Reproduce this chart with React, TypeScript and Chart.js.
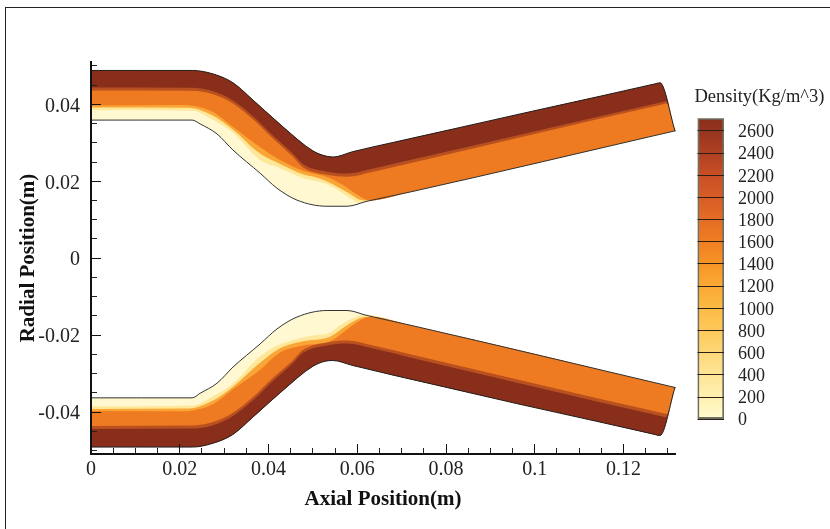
import React, { useEffect, useRef } from "react";
import { Chart, registerables } from "chart.js";

Chart.register(...registerables);

type Pt = [number, number];

const xMajorTicks = [0, 0.02, 0.04, 0.06, 0.08, 0.1, 0.12];
const xMinorTicks = [0.005, 0.01, 0.015, 0.025, 0.03, 0.035, 0.045, 0.05, 0.055, 0.065, 0.07, 0.075, 0.085, 0.09, 0.095, 0.105, 0.11, 0.115, 0.125, 0.13];
const yMajorTicks = [-0.04, -0.02, 0, 0.02, 0.04];
const yMinorTicks = [-0.05, -0.045, -0.035, -0.03, -0.025, -0.015, -0.01, -0.005, 0.005, 0.01, 0.015, 0.025, 0.03, 0.035, 0.045, 0.05];

const upperOuterWall: Pt[] = [[0, 0.0488], [0.0228, 0.0488], [0.0275, 0.0479], [0.032, 0.0456], [0.0365, 0.0411], [0.0433, 0.0341], [0.05, 0.0279], [0.0527, 0.0266], [0.0545, 0.0263], [0.059, 0.0277], [0.0681, 0.0301], [0.0809, 0.0334], [0.0967, 0.0375], [0.1147, 0.0421], [0.127, 0.0453], [0.1282, 0.0456], [0.1316, 0.0331]];
const upperDarkEdge: Pt[] = [[0, 0.0444], [0.0228, 0.0443], [0.0275, 0.0434], [0.032, 0.041], [0.0365, 0.0369], [0.041, 0.0319], [0.0455, 0.0272], [0.0478, 0.0244], [0.0532, 0.0225], [0.0577, 0.022], [0.0636, 0.0233], [0.0719, 0.0255], [0.1283, 0.0405], [0.1295, 0.0408], [0.1316, 0.0331]];
const upperFadeEdge: Pt[] = [[0, 0.0436], [0.0228, 0.0435], [0.0275, 0.0426], [0.032, 0.0402], [0.0365, 0.0361], [0.041, 0.0311], [0.0455, 0.0264], [0.0478, 0.0236], [0.0532, 0.0217], [0.0577, 0.0212], [0.0636, 0.0225], [0.0719, 0.0247], [0.1285, 0.0399], [0.1297, 0.0402], [0.1316, 0.0331]];
const upperOrangeEdge: Pt[] = [[0, 0.0397], [0.0212, 0.0398], [0.023, 0.0396], [0.0275, 0.038], [0.032, 0.0341], [0.0381, 0.0289], [0.0426, 0.0255], [0.0478, 0.0227], [0.0539, 0.0208], [0.0568, 0.019], [0.0595, 0.0169], [0.0629, 0.015], [0.0719, 0.0172], [0.1316, 0.0331]];
const upperAmberEdge: Pt[] = [[0, 0.0392], [0.022, 0.0391], [0.0275, 0.037], [0.032, 0.0334], [0.0381, 0.0272], [0.0426, 0.0245], [0.0478, 0.0218], [0.0516, 0.0207], [0.0545, 0.0192], [0.0584, 0.0167], [0.0606, 0.0152], [0.0629, 0.015], [0.0719, 0.0172], [0.1316, 0.0331]];
const upperYellowEdge: Pt[] = [[0, 0.0385], [0.0228, 0.0383], [0.0275, 0.0359], [0.032, 0.0326], [0.0381, 0.0255], [0.0426, 0.0234], [0.0455, 0.0219], [0.0478, 0.0208], [0.0516, 0.0198], [0.0545, 0.0185], [0.0584, 0.0156], [0.0606, 0.0144], [0.0622, 0.0148], [0.0719, 0.0172], [0.1316, 0.0331]];
const upperInnerWall: Pt[] = [[0, 0.0359], [0.0228, 0.0359], [0.0246, 0.0349], [0.0284, 0.0323], [0.032, 0.0281], [0.0381, 0.0221], [0.0419, 0.0182], [0.0464, 0.0151], [0.0532, 0.0135], [0.0577, 0.0135], [0.0622, 0.0148], [0.0719, 0.0172], [0.1316, 0.0331]];

const lowerOuterWall: Pt[] = [[0, -0.0491], [0.0228, -0.0491], [0.0275, -0.0481], [0.032, -0.0458], [0.0365, -0.0413], [0.0433, -0.0343], [0.05, -0.0281], [0.0527, -0.0268], [0.0545, -0.0266], [0.059, -0.0279], [0.0681, -0.0304], [0.0809, -0.0338], [0.0967, -0.038], [0.1147, -0.0426], [0.127, -0.0458], [0.1282, -0.0461], [0.1316, -0.0336]];
const lowerDarkEdge: Pt[] = [[0, -0.0444], [0.0228, -0.0443], [0.0275, -0.0434], [0.032, -0.041], [0.0365, -0.0369], [0.041, -0.0319], [0.0455, -0.0273], [0.0478, -0.0246], [0.0532, -0.0227], [0.0577, -0.0222], [0.0636, -0.0235], [0.0719, -0.0258], [0.1283, -0.041], [0.1295, -0.0413], [0.1316, -0.0336]];
const lowerFadeEdge: Pt[] = [[0, -0.0436], [0.0228, -0.0435], [0.0275, -0.0426], [0.032, -0.0402], [0.0365, -0.0361], [0.041, -0.0311], [0.0455, -0.0265], [0.0478, -0.0238], [0.0532, -0.0219], [0.0577, -0.0214], [0.0636, -0.0227], [0.0719, -0.025], [0.1285, -0.0402], [0.1297, -0.0405], [0.1316, -0.0336]];
const lowerOrangeEdge: Pt[] = [[0, -0.0397], [0.0212, -0.0398], [0.023, -0.0396], [0.0275, -0.038], [0.032, -0.0341], [0.0381, -0.029], [0.0426, -0.0245], [0.0478, -0.0227], [0.0539, -0.0216], [0.0566, -0.0195], [0.059, -0.0174], [0.0629, -0.0153], [0.0719, -0.0174], [0.1316, -0.0336]];
const lowerAmberEdge: Pt[] = [[0, -0.0392], [0.022, -0.0391], [0.0275, -0.037], [0.032, -0.0334], [0.0381, -0.0272], [0.0426, -0.0234], [0.0478, -0.0216], [0.0539, -0.0204], [0.0566, -0.0183], [0.059, -0.0165], [0.0618, -0.0153], [0.0629, -0.0153], [0.0719, -0.0174], [0.1316, -0.0336]];
const lowerYellowEdge: Pt[] = [[0, -0.0385], [0.0228, -0.0383], [0.0275, -0.0359], [0.032, -0.0326], [0.0381, -0.0255], [0.0426, -0.0224], [0.0478, -0.0206], [0.05, -0.0201], [0.0539, -0.0193], [0.0561, -0.0174], [0.059, -0.0156], [0.0618, -0.0147], [0.0719, -0.0174], [0.1316, -0.0336]];
const lowerInnerWall: Pt[] = [[0, -0.0363], [0.0228, -0.0363], [0.0246, -0.0351], [0.0284, -0.0325], [0.032, -0.0283], [0.0381, -0.0223], [0.0419, -0.0184], [0.0464, -0.0153], [0.0532, -0.0136], [0.0577, -0.0136], [0.0622, -0.0149], [0.0719, -0.0174], [0.1316, -0.0336]];

const bandColors = ["#892E1B", "#B9501F", "#EE7B22", "#F9A636", "#FFE79A", "#FFF8D0"];

const densityTicks = [0, 200, 400, 600, 800, 1000, 1200, 1400, 1600, 1800, 2000, 2200, 2400, 2600];
const densityColors = ["#FFFACF", "#FFF0B0", "#FEE598", "#FDD878", "#FDC95A", "#FCBB45", "#FBA934", "#F79527", "#EF7E22", "#E56C25", "#D95C26", "#C84F25", "#AF4122", "#96341F"];
const densityTop = 2715;
const densityTopColor = "#8A2E1B";
const SERIF = "'Liberation Serif', 'Times New Roman', serif";

const toXY = (pts: Pt[]) => pts.map(([x, y]) => ({ x, y }));

function buildSide(name: string, startIndex: number, outer: Pt[], edges: Pt[][], inner: Pt[]) {
  // first the wall strokes (painted last), then the fills, innermost edge at the back
  const base = { pointRadius: 0, cubicInterpolationMode: "monotone", clip: false as const, xAxisID: "x", yAxisID: "y" };
  const sets: any[] = [
    { ...base, label: name + " outer wall", data: toXY(outer), borderColor: "#222222", borderWidth: 1, fill: false },
    { ...base, label: name + " inner wall", data: toXY(inner), borderColor: "#333333", borderWidth: 1, fill: false },
  ];
  edges.forEach((edge, i) => {
    sets.push({ ...base, label: name + " band " + i, data: toXY(edge), borderWidth: 0, backgroundColor: bandColors[i], fill: { target: startIndex } });
  });
  sets.push({ ...base, label: name + " band 5", data: toXY(inner), borderWidth: 0, backgroundColor: bandColors[5], fill: { target: startIndex } });
  return sets;
}

const setTicks = (list: number[]) => (scale: any) => {
  scale.ticks = list.map((value) => ({ value }));
};

export default function App() {
  const mainRef = useRef<HTMLCanvasElement>(null);
  const barRef = useRef<HTMLCanvasElement>(null);

  useEffect(() => {
    const upper = buildSide("upper", 0, upperOuterWall, [upperDarkEdge, upperFadeEdge, upperOrangeEdge, upperAmberEdge, upperYellowEdge], upperInnerWall);
    const lower = buildSide("lower", upper.length, lowerOuterWall, [lowerDarkEdge, lowerFadeEdge, lowerOrangeEdge, lowerAmberEdge, lowerYellowEdge], lowerInnerWall);
    const tickFont = { family: SERIF, size: 20 };
    const titleFont = { family: SERIF, size: 21, weight: "bold" as const };
    const xRange = { min: 0, max: 0.1316 };
    const yRange = { min: -0.0509, max: 0.051 };

    const main = new Chart(mainRef.current!, {
      type: "line",
      data: { datasets: [...upper, ...lower] },
      options: {
        responsive: false,
        animation: false,
        parsing: false as any,
        normalized: true,
        layout: { padding: { top: 62, right: 155, left: 0, bottom: 0 } },
        plugins: { legend: { display: false }, tooltip: { enabled: false }, title: { display: false } },
        elements: { line: { borderCapStyle: "round", borderJoinStyle: "round" } },
        scales: {
          xMinor: {
            type: "linear", axis: "x", position: "bottom", weight: 0, ...xRange,
            afterBuildTicks: setTicks(xMinorTicks),
            afterFit: (s: any) => { s.height = 0; },
            ticks: { display: false },
            border: { display: false, z: 1 },
            grid: { drawOnChartArea: false, drawTicks: true, tickLength: -6, tickColor: "#222222", tickWidth: 1, z: 1 },
          },
          x: {
            type: "linear", position: "bottom", weight: 1, ...xRange,
            afterBuildTicks: setTicks(xMajorTicks),
            afterFit: (s: any) => { s.height = 529 - 454; },
            ticks: { font: tickFont, color: "#222222", padding: 14, autoSkip: false, maxRotation: 0, callback: (v: any) => String(v) },
            border: { display: true, color: "#111111", width: 2, z: 1 },
            grid: { drawOnChartArea: false, drawTicks: true, tickLength: -10, tickColor: "#111111", tickWidth: 1, z: 1 },
            title: { display: true, text: "Axial Position(m)", font: titleFont, color: "#111111", padding: 17 },
          },
          yMinor: {
            type: "linear", axis: "y", position: "left", weight: 0, ...yRange,
            afterBuildTicks: setTicks(yMinorTicks),
            afterFit: (s: any) => { s.width = 0; },
            ticks: { display: false },
            border: { display: false, z: 1 },
            grid: { drawOnChartArea: false, drawTicks: true, tickLength: -6, tickColor: "#222222", tickWidth: 1, z: 1 },
          },
          y: {
            type: "linear", position: "left", weight: 1, ...yRange,
            afterBuildTicks: setTicks(yMajorTicks),
            afterFit: (s: any) => { s.width = 91; },
            ticks: { font: tickFont, color: "#222222", padding: 21, labelOffset: 2, autoSkip: false, callback: (v: any) => String(v) },
            border: { display: true, color: "#111111", width: 2, z: 1 },
            grid: { drawOnChartArea: false, drawTicks: true, tickLength: -10, tickColor: "#111111", tickWidth: 1, z: 1 },
            title: { display: true, text: "Radial Position(m)", font: titleFont, color: "#111111", padding: 16 },
          },
        },
      } as any,
    });

    const gradientFill = (ctx: any) => {
      const { chart } = ctx;
      const area = chart.chartArea;
      if (!area) return densityColors[0];
      const g = chart.ctx.createLinearGradient(0, area.bottom, 0, area.top);
      densityTicks.forEach((v, i) => g.addColorStop(v / densityTop, densityColors[i]));
      g.addColorStop(1, densityTopColor);
      return g;
    };

    const bar = new Chart(barRef.current!, {
      type: "bar",
      data: {
        labels: ["Density"],
        datasets: [
          {
            data: [densityTop],
            xAxisID: "x",
            yAxisID: "y",
            backgroundColor: gradientFill,
            borderColor: "#6E6E62",
            borderWidth: 2,
            borderSkipped: false,
            barPercentage: 1,
            categoryPercentage: 1,
          } as any,
        ],
      },
      options: {
        responsive: false,
        animation: false,
        layout: { padding: { left: 14.5, top: 0, bottom: 20.4, right: 0 } },
        plugins: {
          legend: { display: false },
          tooltip: { enabled: false },
          title: {
            display: true,
            text: "Density(Kg/m^3)",
            align: "start",
            font: { family: SERIF, size: 18.5, weight: "normal" },
            color: "#222222",
            padding: { top: 6, bottom: 10 },
          },
        },
        scales: {
          x: { display: false },
          barInset: {
            type: "linear", axis: "y", position: "left",
            afterFit: (s: any) => { s.width = 3; },
            ticks: { display: false },
            grid: { display: false },
            border: { display: false },
          },
          y: {
            position: "right",
            min: 0,
            max: densityTop,
            afterBuildTicks: setTicks(densityTicks),
            afterFit: (s: any) => { s.width = 106; },
            border: { display: false },
            grid: { color: "#2A2015", lineWidth: 1, drawTicks: false, z: 1 },
            ticks: { font: { family: SERIF, size: 18 }, color: "#222222", padding: 14, labelOffset: 1.5, autoSkip: false, callback: (v: any) => String(v) },
          },
        },
      } as any,
    });

    return () => {
      main.destroy();
      bar.destroy();
    };
  }, []);

  return (
    <div style={{ position: "absolute", left: 0, top: 0, width: 830, height: 529, overflow: "hidden", background: "#fff" }}>
      <div style={{ position: "absolute", left: 5, top: 7, right: 0, bottom: 0, borderLeft: "1px solid #222", borderTop: "1px solid #222" }} />
      <canvas ref={mainRef} width={830} height={529} style={{ position: "absolute", left: 0, top: 0 }} />
      <canvas ref={barRef} width={150} height={364} style={{ position: "absolute", left: 680, top: 80 }} />
    </div>
  );
}
